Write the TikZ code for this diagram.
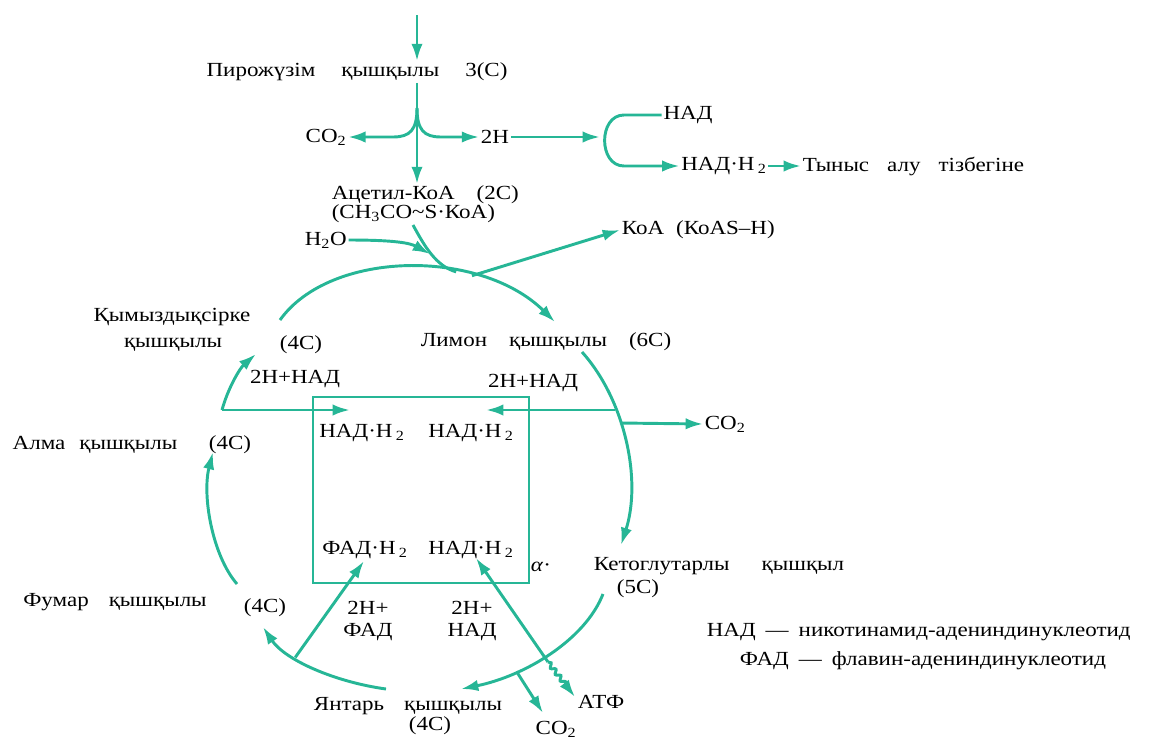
\documentclass[tikz,border=0pt]{standalone}
\usepackage{fontspec}
\setmainfont[FakeStretch=1.15]{Liberation Serif}
\usetikzlibrary{arrows.meta,decorations.pathmorphing}
\definecolor{krebs}{RGB}{38,182,150}
\tikzset{every picture/.style={line width=0.75pt}}

\begin{document}
\begin{tikzpicture}[x=0.75pt,y=0.75pt,yscale=-1,xscale=1,
  flow/.style={draw=krebs,line width=2.2pt,-{Latex[length=13pt,width=8.5pt]}},
  link/.style={draw=krebs,line width=2.2pt},
  lbl/.style={inner sep=1pt,font=\fontsize{15}{17}\selectfont}]
\useasboundingbox (0,0) rectangle (1150,740);

% labels
\node[lbl] (pir) at (357,72) {Пирожүзім\hspace{1.3em}қышқылы\hspace{1.3em}3(С)};
\node[lbl] (co2a) at (326,137) {CO\textsubscript{2}};
\node[lbl] (h2) at (495,137) {2H};
\node[lbl] (nad1) at (688,115) {НАД};
\node[lbl] (nadh) at (724,166) {НАД·Н\,\textsubscript{2}};
\node[lbl,anchor=west] (tynys) at (801,166) {Тыныс\hspace{0.9em}алу\hspace{0.9em}тізбегіне};
\node[lbl,anchor=west] (acet1) at (330,195) {Ацетил-КоА\hspace{1.1em}(2С)};
\node[lbl,anchor=west] (acet2) at (330,214) {(СН\textsubscript{3}СО\textasciitilde S·КоА)};
\node[lbl,anchor=west] (h2o) at (303,240) {Н\textsubscript{2}О};
\node[lbl,anchor=west] (koa) at (620,230) {КоА\hspace{0.6em}(КоАS–Н)};
\node[lbl] (kym1) at (172,317) {Қымыздықсірке};
\node[lbl] (kym2) at (173,345) {қышқылы};
\node[lbl] (kym4c) at (301,345) {(4С)};
\node[lbl] (lim) at (546,342) {Лимон\hspace{1.1em}қышқылы\hspace{1.1em}(6С)};
\node[lbl] (nadl) at (295,379) {2H+НАД};
\node[lbl] (nadr) at (533,383) {2H+НАД};
\node[lbl,anchor=west] (co2b) at (703,424) {CO\textsubscript{2}};
\node[lbl] (alma) at (95,445) {Алма\hspace{0.7em}қышқылы};
\node[lbl] (alma4c) at (230,445) {(4С)};
\node[lbl] (bn1) at (362,433) {НАД·Н\,\textsubscript{2}};
\node[lbl] (bn2) at (471,433) {НАД·Н\,\textsubscript{2}};
\node[lbl] (bf) at (365,550) {ФАД·Н\,\textsubscript{2}};
\node[lbl] (bn3) at (471,550) {НАД·Н\,\textsubscript{2}};
\node[lbl] (alpha) at (541,567) {\textit{α}·};
\node[lbl,anchor=west] (keto) at (592,566) {Кетоглутарлы\hspace{1.6em}қышқыл};
\node[lbl] (keto5c) at (638,589) {(5С)};
\node[lbl] (fum) at (115,602) {Фумар\hspace{1em}қышқылы};
\node[lbl] (fum4c) at (265,608) {(4С)};
\node[lbl] (fadh) at (368,608) {2H+};
\node[lbl] (fad) at (368,632) {ФАД};
\node[lbl] (nadh3) at (472,608) {2H+};
\node[lbl] (nad3) at (472,632) {НАД};
\node[lbl] (jan) at (408,706) {Янтарь\hspace{1em}қышқылы};
\node[lbl] (jan4c) at (430,726) {(4С)};
\node[lbl] (co2c) at (556,729) {CO\textsubscript{2}};
\node[lbl] (atp) at (601,702) {АТФ};
\node[lbl,anchor=west] (leg1) at (705,632) {НАД\hspace{0.5em}—\hspace{0.5em}никотинамид-адениндинуклеотид};
\node[lbl,anchor=west] (leg2) at (738,661) {ФАД\hspace{0.5em}—\hspace{0.5em}флавин-адениндинуклеотид};

% points on the arrows
\coordinate (top) at (417,15);
\coordinate (br) at (417,108);
\coordinate (brk) at (600,137);
\coordinate (h2otip) at (430,254);
\coordinate (acs) at (413,225);
\coordinate (kymtop) at (280,320);
\coordinate (limtip) at (555,322);
\coordinate (limbot) at (582,352);
\coordinate (ketotip) at (621,545);
\coordinate (rj) at (615,410);
\coordinate (rtip) at (486,410);
\coordinate (cj2) at (620,423);
\coordinate (lj) at (222,410);
\coordinate (ltip) at (350,410);
\coordinate (kymtip) at (256,354);
\coordinate (fumtop) at (237,584);
\coordinate (almatip) at (213,452);
\coordinate (janstart) at (386,689);
\coordinate (fumtip) at (263,627);
\coordinate (fadtip) at (364,561);
\coordinate (ketostart) at (603,594);
\coordinate (jantip) at (461,689);
\coordinate (co2tip) at (543,713);
\coordinate (kj) at (548,662);
\coordinate (nadtip) at (476,558);
\coordinate (atptip) at (575,697);

\draw[flow] (top) -- (pir.north -| top);
\draw[flow] (pir.south -| top) -- (acet1.north -| top);
\draw[flow] (br) .. controls (417,130) and (410,137) .. (393,137) -- (co2a.east);
\draw[flow] (br) .. controls (417,130) and (424,137) .. (441,137) -- (h2.west);
\draw[flow] (h2.east) -- (brk);
\draw[flow] (nad1.west) -- (624,115) to[out=180,in=180,looseness=1.3] (624,166) -- (nadh.west);
\draw[flow] (nadh.east) -- (tynys.west);
\draw[flow] (h2o.east) .. controls (395,240) and (410,243) .. (h2otip);

\draw[flow] (kymtop) .. controls (330,250) and (480,248) .. coordinate[pos=0.65] (acj) coordinate[pos=0.7] (koaj) (limtip);
\draw[link] (acs) .. controls (425,247) and (436,266) .. (acj);
\draw[flow] (koaj) -- (koa.west);

\draw[flow] (limbot) .. controls (625,400) and (642,480) .. (ketotip);
\draw[flow] (rj) -- (rtip);
\draw[flow] (cj2) -- (co2b.west);

\draw[link] (313,397) rectangle (529,583);

\draw[flow] (lj) -- (ltip);
\draw[flow] (lj) .. controls (228,388) and (240,368) .. (kymtip);
\draw[flow] (fumtop) .. controls (212,555) and (202,495) .. (almatip);

\draw[flow] (janstart) .. controls (335,682) and (285,660) .. coordinate[pos=0.65] (fj) (fumtip);
\draw[flow] (fj) -- (fadtip);

\draw[flow] (ketostart) .. controls (585,640) and (525,676) .. coordinate[pos=0.7] (cj) (jantip);
\draw[flow] (cj) -- (co2tip);
\draw[flow] (kj) -- (nadtip);
\draw[flow,decorate,decoration={snake,amplitude=1.5pt,segment length=6pt,post length=11pt}] (kj) -- (atptip);
\end{tikzpicture}
\end{document}
